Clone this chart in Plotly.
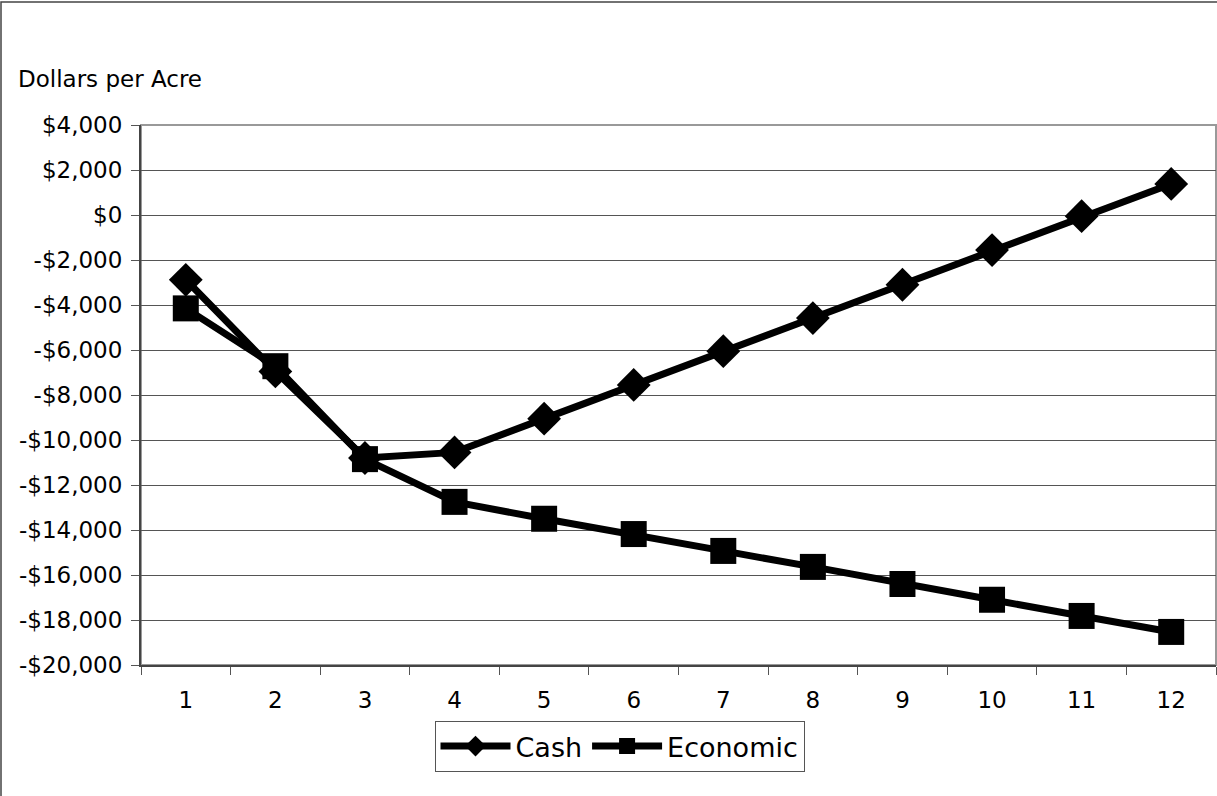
import plotly.graph_objects as go

years = ["1", "2", "3", "4", "5", "6", "7", "8", "9", "10", "11", "12"]
cash = [-2880, -6950, -10800, -10550, -9050, -7550, -6050, -4580, -3100, -1560, -50, 1380]
economic = [-4150, -6720, -10850, -12750, -13500, -14180, -14930, -15640, -16400, -17100, -17820, -18530]
y_tickvals = [4000, 2000, 0, -2000, -4000, -6000, -8000, -10000, -12000, -14000, -16000, -18000, -20000]
y_ticktext = ["$4,000", "$2,000", "$0", "-$2,000", "-$4,000", "-$6,000", "-$8,000", "-$10,000",
              "-$12,000", "-$14,000", "-$16,000", "-$18,000", "-$20,000"]

FONT = "Tahoma, DejaVu Sans, sans-serif"

fig = go.Figure()
fig.add_trace(go.Scatter(x=years, y=cash, name="Cash", mode="lines+markers",
                         line=dict(color="black", width=7),
                         marker=dict(symbol="diamond", size=26, color="black")))
fig.add_trace(go.Scatter(x=years, y=economic, name="Economic", mode="lines+markers",
                         line=dict(color="black", width=7),
                         marker=dict(symbol="square", size=26, color="black")))

W, H = 1217, 796
L, R, T, B = 141, 1216, 125, 665
pw, ph = R - L, B - T

fig.update_layout(
    width=W, height=H,
    margin=dict(l=L, r=W - R, t=T, b=H - B, pad=0),
    paper_bgcolor="white", plot_bgcolor="white",
    font=dict(family=FONT, color="black"),
    showlegend=True,
    legend=dict(orientation="h", x=(619.5 - L) / pw, xanchor="center",
                y=(B - 721) / ph, yanchor="top",
                bordercolor="#555555", borderwidth=1, bgcolor="white",
                font=dict(size=27, family=FONT), itemwidth=70,
                tracegroupgap=0, itemsizing="trace"),
    annotations=[dict(text="Dollars per Acre", xref="paper", yref="paper",
                      x=(16 - L) / pw, y=(B - 79) / ph, xanchor="left", yanchor="middle",
                      showarrow=False, font=dict(size=23, family=FONT))],
    shapes=[
        dict(type="rect", xref="paper", yref="paper", x0=(1 - L) / pw, x1=(W + 20 - L) / pw,
             y0=(B - H - 20) / ph, y1=(B - 2) / ph, line=dict(color="#444444", width=1.5),
             layer="below"),
        dict(type="rect", xref="paper", yref="paper", x0=0, x1=1, y0=0, y1=1,
             line=dict(color="#999999", width=2), layer="below"),
    ],
)
fig.update_xaxes(type="category", range=[-0.5, 11.5], tickson="boundaries", ticks="outside", ticklen=8,
                 tickcolor="#555555", showline=True, linecolor="#444444", linewidth=2,
                 showgrid=False, tickfont=dict(size=23, family=FONT), ticklabelstandoff=13)
fig.update_yaxes(range=[-20000, 4000], tickvals=y_tickvals, ticktext=y_ticktext,
                 ticks="outside", ticklen=8, tickcolor="#555555",
                 showline=True, linecolor="#444444", linewidth=2,
                 showgrid=True, gridcolor="#555555", gridwidth=1, zeroline=False,
                 tickfont=dict(size=23, family=FONT), ticklabelstandoff=4)

fig.write_html("out.html", config={"displayModeBar": False},
               post_script="document.body.style.margin='0';document.body.style.overflow='hidden';")
